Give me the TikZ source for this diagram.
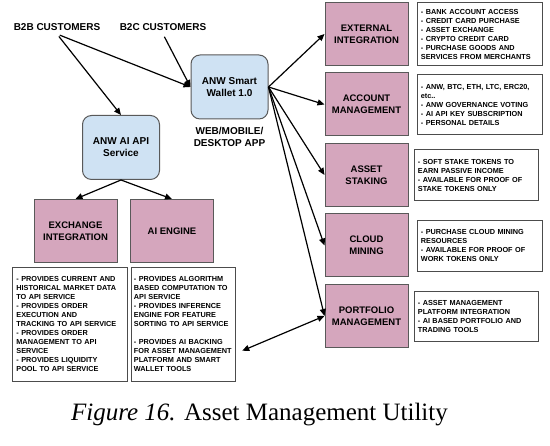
\documentclass[tikz,border=0pt]{standalone}
\usepackage{fontspec}
\setmainfont{Liberation Serif}
\setsansfont{Liberation Sans}
\usetikzlibrary{arrows.meta, positioning}

\definecolor{walletblue}{HTML}{CFE2F3}
\definecolor{utilpink}{HTML}{D5A6BD}
\definecolor{edgegray}{HTML}{595959}
\hyphenpenalty=10000

\begin{document}
\begin{tikzpicture}[x=1pt, y=1pt,
  app/.style={rectangle, rounded corners=9pt, draw=edgegray, line width=1pt, fill=walletblue,
              minimum width=77pt, minimum height=64pt, align=center,
              font=\sffamily\bfseries\fontsize{10}{12}\selectfont},
  util/.style={rectangle, draw=edgegray, line width=1pt, fill=utilpink,
               minimum width=83pt, minimum height=63pt, align=center,
               font=\sffamily\bfseries\fontsize{9.5}{12}\selectfont},
  info/.style={rectangle, draw=black!70, line width=0.8pt, fill=white, align=left,
               inner xsep=4pt, font=\sffamily\bfseries\fontsize{7.3}{9}\selectfont},
  lbl/.style={align=center, font=\sffamily\bfseries\fontsize{10}{12}\selectfont},
  flow/.style={-{Triangle[length=7pt, width=6pt]}, line width=1.2pt},
  both/.style={{Triangle[length=7pt, width=6pt]}-{Triangle[length=7pt, width=6pt]}, line width=1.2pt}
]
  \useasboundingbox (0,0) rectangle (550,446);

  % users and apps
  \node[lbl] (b2b) at (57,419) {B2B CUSTOMERS};
  \node[lbl] (b2c) at (163,419) {B2C CUSTOMERS};
  \node[app] (wallet) at (229.5,359) {ANW Smart\\Wallet 1.0};
  \node[lbl, below=4pt of wallet] (web) {WEB/MOBILE/\\DESKTOP APP};
  \node[app] (api) at (121,298.5) {ANW AI API\\Service};

  % api side
  \node[util] (exch) at (75.5,215) {EXCHANGE\\INTEGRATION};
  \node[util] (aieng) at (172,215) {AI ENGINE};
  \node[info, text width=107pt, minimum height=114pt, anchor=north west] (exchtxt) at (12,179)
    {- PROVIDES CURRENT AND\\HISTORICAL MARKET DATA\\TO API SERVICE\\- PROVIDES ORDER\\EXECUTION AND\\TRACKING TO API SERVICE\\- PROVIDES ORDER\\MANAGEMENT TO API\\SERVICE\\- PROVIDES LIQUIDITY\\POOL TO API SERVICE};
  \node[info, inner xsep=2.5pt, text width=99pt, minimum height=114pt, anchor=north west] (aitxt) at (131,179)
    {- PROVIDES ALGORITHM\\BASED COMPUTATION TO\\API SERVICE\\- PROVIDES INFERENCE\\ENGINE FOR FEATURE\\SORTING TO API SERVICE\\[9pt]- PROVIDES AI BACKING\\FOR ASSET MANAGEMENT\\PLATFORM AND SMART\\WALLET TOOLS};

  % wallet utilities
  \node[util] (ext) at (366.5,412) {EXTERNAL\\INTEGRATION};
  \node[util] (acc) at (366.5,341.5) {ACCOUNT\\MANAGEMENT};
  \node[util] (stk) at (366.5,271) {ASSET\\STAKING};
  \node[util] (cld) at (366.5,200.5) {CLOUD\\MINING};
  \node[util] (prt) at (366.5,130) {PORTFOLIO\\MANAGEMENT};

  \node[info, text width=117pt, minimum height=63pt, right=8pt of ext] (exttxt)
    {- BANK ACCOUNT ACCESS\\- CREDIT CARD PURCHASE\\- ASSET EXCHANGE\\- CRYPTO CREDIT CARD\\- PURCHASE GOODS AND\\SERVICES FROM MERCHANTS};
  \node[info, text width=117pt, minimum height=60pt, right=8pt of acc] (acctxt)
    {- ANW, BTC, ETH, LTC, ERC20,\\etc..\\- ANW GOVERNANCE VOTING\\- AI API KEY SUBSCRIPTION\\- PERSONAL DETAILS};
  \node[info, text width=116pt, minimum height=51pt, right=5pt of stk] (stktxt)
    {- SOFT STAKE TOKENS TO\\EARN PASSIVE INCOME\\- AVAILABLE FOR PROOF OF\\STAKE TOKENS ONLY};
  \node[info, text width=117pt, minimum height=51pt, right=8pt of cld] (cldtxt)
    {- PURCHASE CLOUD MINING\\RESOURCES\\- AVAILABLE FOR PROOF OF\\WORK TOKENS ONLY};
  \node[info, text width=116pt, minimum height=50pt, right=5pt of prt] (prttxt)
    {- ASSET MANAGEMENT\\PLATFORM INTEGRATION\\- AI BASED PORTFOLIO AND\\TRADING TOOLS};

  \node[font=\fontsize{25}{30}\selectfont] (cap) at (259.5,31) {\textit{Figure 16.} Asset Management Utility};

  \draw[flow, shorten <=3pt] (b2b.south) -- (wallet.west);
  \draw[flow, shorten <=3pt] (b2b.south) -- (api.north);
  \draw[flow, shorten <=3pt] (b2c.south) -- (wallet.west);
  \draw[flow] (api.south) -- (exch.north);
  \draw[flow] (api.south) -- (aieng.north);
  \foreach \u in {ext, acc, stk, cld, prt}
    \draw[flow] (wallet.east) -- (\u.west);
  \draw[both, shorten <=7pt] (aitxt.-29) -- (prt.west);
\end{tikzpicture}
\end{document}
